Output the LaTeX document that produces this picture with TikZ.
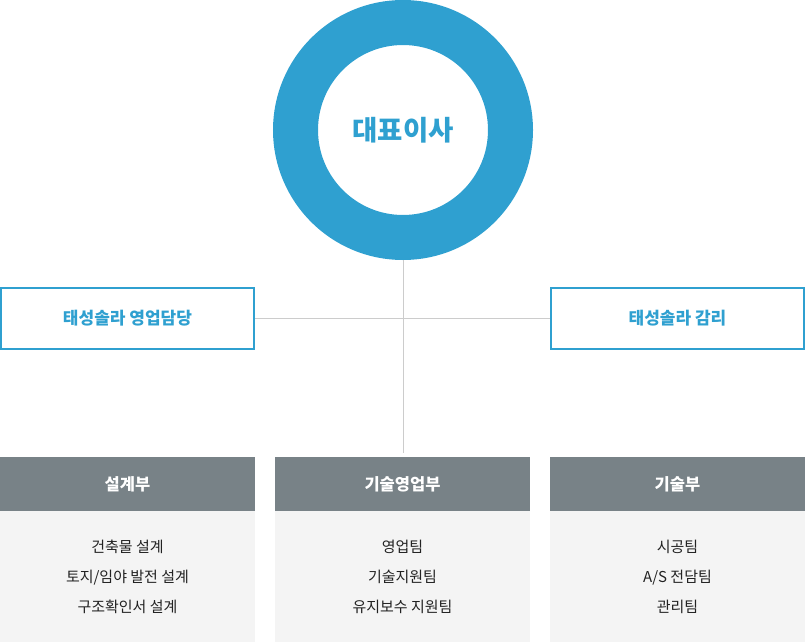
\documentclass[tikz,border=0pt]{standalone}
\usepackage{fontspec}
\setmainfont{Noto Sans CJK KR}
\definecolor{mainblue}{HTML}{2FA0D0}
\definecolor{headgray}{HTML}{788287}
\definecolor{bodygray}{HTML}{F4F4F4}
\definecolor{linegray}{HTML}{CCCCCC}
\definecolor{txt}{HTML}{222222}
\tikzset{
  ring/.style={circle, draw=mainblue, line width=45pt, minimum size=215pt, inner sep=0pt, text=mainblue, font=\fontsize{27.5}{32}\selectfont\bfseries},
  sidebox/.style={rectangle, draw=mainblue, line width=2pt, minimum width=253pt, minimum height=61pt, inner sep=0pt, text=mainblue, font=\fontsize{17}{20}\selectfont\bfseries},
  headbox/.style={rectangle, fill=headgray, minimum width=255pt, minimum height=54pt, inner sep=0pt, text=white, font=\fontsize{16.5}{20}\selectfont\bfseries},
  bodybox/.style={rectangle, fill=bodygray, minimum width=255pt, minimum height=131pt, inner sep=0pt, text=txt, align=center, font=\fontsize{15}{30}\selectfont},
  conn/.style={draw=linegray, line width=1pt}
}
\begin{document}
\begin{tikzpicture}[x=1pt,y=-1pt]
\useasboundingbox (0,0) rectangle (805,642);
\node[ring] (ceo) at (403,130) {대표이사};
\node[sidebox] (sales) at (127.5,318) {태성솔라 영업담당};
\node[sidebox] (super) at (677.5,318) {태성솔라 감리};
\coordinate (vend) at (403,453);
\draw[conn] (ceo.south) -- (vend);
\draw[conn] (sales.east) -- (super.west);
\node[headbox] (h1) at (127.5,484) {설계부};
\node[headbox] (h2) at (402.5,484) {기술영업부};
\node[headbox] (h3) at (677.5,484) {기술부};
\node[bodybox] (b1) at (127.5,576.5) {건축물 설계\\토지/임야 발전 설계\\구조확인서 설계};
\node[bodybox] (b2) at (402.5,576.5) {영업팀\\기술지원팀\\유지보수 지원팀};
\node[bodybox] (b3) at (677.5,576.5) {시공팀\\A/S 전담팀\\관리팀};
\end{tikzpicture}
\end{document}
